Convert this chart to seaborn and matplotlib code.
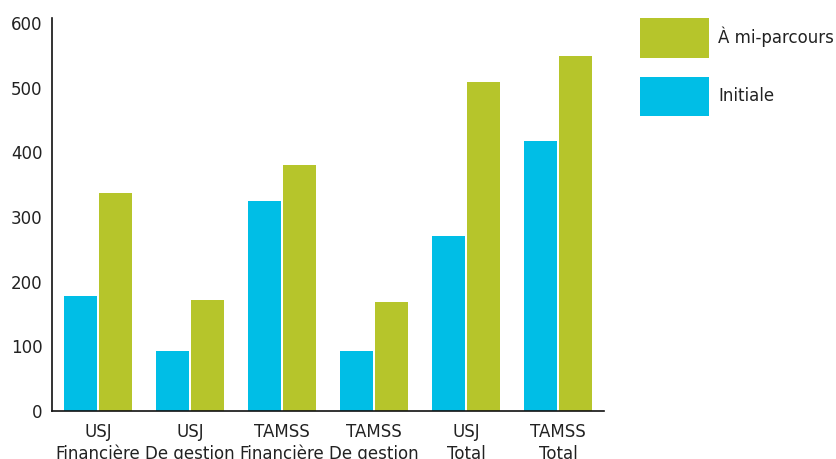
import matplotlib
matplotlib.use("Agg")
import matplotlib.pyplot as plt
import seaborn as sns
import pandas as pd
from matplotlib.patches import Patch
from matplotlib.ticker import FixedLocator

categories = ["USJ\nFinancière", "USJ\nDe gestion", "TAMSS\nFinancière",
              "TAMSS\nDe gestion", "USJ\nTotal", "TAMSS\nTotal"]
initiale = [178, 93, 325, 93, 271, 418]
mi_parcours = [338, 171, 381, 168, 509, 549]
series_names = ["Initiale", "À mi-parcours"]
yticks = [0, 100, 200, 300, 400, 500, 600]

colors = {"Initiale": "#00BEE6", "À mi-parcours": "#B6C52B"}

df = pd.DataFrame({
    "cat": categories * 2,
    "val": initiale + mi_parcours,
    "serie": [series_names[0]] * len(categories) + [series_names[1]] * len(categories),
})

sns.set_style("white")
plt.rcParams["font.family"] = ["DejaVu Sans"]
text_color = "#222222"

fig = plt.figure(figsize=(8.37, 4.59), dpi=100)
ax = fig.add_axes([52 / 837, 1 - 411 / 459, (604 - 52) / 837, (411 - 18) / 459])

sns.barplot(data=df, x="cat", y="val", hue="serie", hue_order=series_names,
            palette=colors, saturation=1, width=0.78, gap=0.08, linewidth=0,
            ax=ax, legend=False, errorbar=None)

ax.set_xlim(-0.5, len(categories) - 0.5)
ax.set_ylim(0, 608)
ax.set_yticks(yticks)
ax.set_xlabel("")
ax.set_ylabel("")

for s in ["top", "right"]:
    ax.spines[s].set_visible(False)
for s in ["left", "bottom"]:
    ax.spines[s].set_color("#111111")
    ax.spines[s].set_linewidth(1.2)

ax.tick_params(axis="y", length=0, pad=7, labelsize=12, labelcolor=text_color)
ax.tick_params(axis="x", which="major", length=0, pad=8.5, labelsize=12, labelcolor=text_color)
for lbl in ax.get_xticklabels():
    lbl.set_linespacing(1.28)
ax.xaxis.set_minor_locator(FixedLocator([i - 0.5 for i in range(len(categories) + 1)]))
ax.tick_params(axis="x", which="minor", direction="in", length=7, width=1.0, color="#111111")
ax.grid(False)

handles = [Patch(facecolor=colors["À mi-parcours"], edgecolor="none"),
           Patch(facecolor=colors["Initiale"], edgecolor="none")]
fig.legend(handles, ["À mi-parcours", "Initiale"], loc="upper left",
           bbox_to_anchor=(640 / 837, 1 - 18 / 459), frameon=False,
           borderpad=0, borderaxespad=0, handlelength=4.14, handleheight=3.28,
           labelspacing=1.14, handletextpad=0.54, fontsize=12, labelcolor=text_color)

fig.savefig("out.png", dpi=100)
